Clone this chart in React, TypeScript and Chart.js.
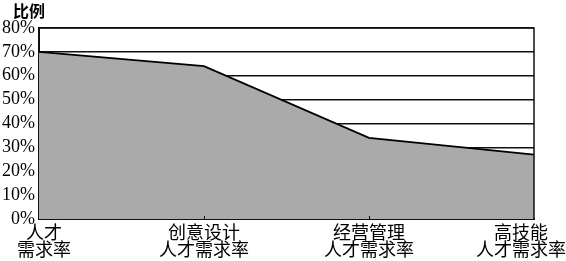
import React, { useEffect, useRef } from "react";
import { Chart, registerables } from "chart.js";

Chart.register(...registerables);

const categories: string[][] = [
  ["人才", "需求率"],
  ["创意设计", "人才需求率"],
  ["经营管理", "人才需求率"],
  ["高技能", "人才需求率"],
];
const values: number[] = [70, 64, 34, 27];
const yTicks: number[] = [0, 10, 20, 30, 40, 50, 60, 70, 80];
const yTitle = "比例";

const CJK = '"Noto Sans CJK SC", "Noto Sans", sans-serif';
const SERIF = '"Liberation Serif", "DejaVu Serif", serif';

const labelPlugin = {
  id: "customLabels",
  afterDraw(chart: any) {
    const ctx: CanvasRenderingContext2D = chart.ctx;
    const xs = chart.scales.x;
    const area = chart.chartArea;
    ctx.save();
    ctx.fillStyle = "#000";
    ctx.textBaseline = "middle";
    ctx.textAlign = "center";
    ctx.font = `18px ${CJK}`;
    const cw = chart.width;
    categories.forEach((lines, i) => {
      const px = xs.getPixelForValue(i);
      const w = Math.max(...lines.map((l) => ctx.measureText(l).width));
      let cx = px;
      if (cx - w / 2 < 17) cx = 17 + w / 2;
      if (cx + w / 2 > cw) cx = cw - w / 2;
      lines.forEach((l, j) => {
        ctx.fillText(l, cx, area.bottom + 13 + j * 17);
      });
    });
    // title
    ctx.textAlign = "left";
    ctx.font = `bold 16px ${CJK}`;
    ctx.fillText(yTitle, 13, 11);
    // top & right border
    ctx.strokeStyle = "#111";
    ctx.lineWidth = 1.5;
    ctx.beginPath();
    ctx.moveTo(area.left, area.top);
    ctx.lineTo(area.right, area.top);
    ctx.lineTo(area.right, area.bottom);
    ctx.stroke();
    // small ticks
    ctx.lineWidth = 1;
    for (let i = 1; i < categories.length - 1; i++) {
      const px = Math.round(xs.getPixelForValue(i)) + 0.5;
      ctx.beginPath();
      ctx.moveTo(px, area.bottom);
      ctx.lineTo(px, area.bottom - 3);
      ctx.stroke();
    }
    ctx.restore();
  },
};

export default function App() {
  const ref = useRef<HTMLCanvasElement>(null);
  useEffect(() => {
    if (!ref.current) return;
    const chart = new Chart(ref.current, {
      type: "line",
      data: {
        labels: categories.map((c) => c.join("")),
        datasets: [
          {
            data: values,
            borderColor: "#000",
            borderWidth: 1.8,
            backgroundColor: "#aaaaaa",
            fill: "origin",
            pointRadius: 0,
            tension: 0,
          },
        ],
      },
      options: {
        animation: false,
        responsive: false,
        maintainAspectRatio: false,
        layout: { padding: { top: 28, right: 32, bottom: 42, left: 0 } },
        plugins: { legend: { display: false }, tooltip: { enabled: false }, title: { display: false } },
        scales: {
          x: {
            type: "category",
            offset: false,
            grid: { display: false, drawTicks: false },
            border: { display: true, color: "#111", width: 2 },
            ticks: { display: false },
            afterFit: (s: any) => {
              s.height = 0;
              s.paddingLeft = 0;
              s.paddingRight = 0;
            },
          },
          y: {
            min: 0,
            max: 80,
            afterBuildTicks: (s: any) => {
              s.ticks = yTicks.map((v) => ({ value: v }));
            },
            grid: { color: "#111", lineWidth: 1.5, drawTicks: false },
            border: { display: true, color: "#111", width: 2 },
            ticks: {
              autoSkip: false,
              stepSize: 10,
              padding: 4,
              color: "#000",
              font: { family: SERIF, size: 18 },
              callback: (v: any) => `${v}%`,
            },
            afterFit: (s: any) => {
              s.width = 39;
            },
          },
        },
      },
      plugins: [labelPlugin],
    });
    return () => chart.destroy();
  }, []);
  return (
    <div style={{ position: "absolute", left: 0, top: 0, width: 566, height: 261, background: "#fff" }}>
      <canvas ref={ref} width={566} height={261} style={{ width: 566, height: 261 }} />
    </div>
  );
}
